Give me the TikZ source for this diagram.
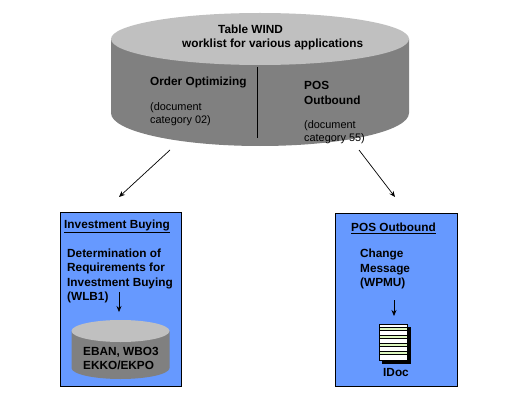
\documentclass[tikz,border=0pt]{standalone}
\usepackage{fontspec}
\setmainfont{Liberation Sans}
\usetikzlibrary{arrows.meta}
\definecolor{topg}{RGB}{192,192,192}
\definecolor{bodyg}{RGB}{128,128,128}
\definecolor{boxb}{RGB}{102,153,255}
\definecolor{lineg}{RGB}{221,247,190}
\tikzset{
 lbl/.style={inner sep=0pt,anchor=west,align=left,font=\bfseries\fontsize{11.8}{14.2}\selectfont,text=black},
 sm/.style={inner sep=0pt,anchor=west,align=left,font=\fontsize{10.9}{13.2}\selectfont,text=black},
 panel/.style={draw=black,fill=boxb,line width=1pt},
 arr/.style={draw=black,line width=0.7pt,-{Stealth[length=6pt,width=5pt]}},
}
\begin{document}
\begin{tikzpicture}[x=1pt,y=-1pt]
\useasboundingbox (0,0) rectangle (519,401);
\fill[white] (0,0) rectangle (519,401);
% big cylinder
\fill[bodyg] (111,39) -- (111,113) arc[start angle=180,end angle=0,x radius=149,y radius=33] -- (409,39) -- cycle;
\fill[topg] (260,39) ellipse[x radius=149,y radius=26];
\draw[black,line width=0.7pt] (257,67) -- (257,138);
\node[lbl] (t1) at (218,29) {Table WIND};
\node[lbl] (t2) at (182,44) {worklist for various applications};
\node[lbl] (oo) at (150,82) {Order Optimizing};
\node[sm] (oc) at (150,114.5) {(document\\category 02)};
\node[lbl] (po) at (304,93) {POS\\Outbound};
\node[sm] (pc) at (304,132.5) {(document\\category 55)};
\coordinate (a1s) at (170,150);
\coordinate (a1e) at (119,197);
\coordinate (a2s) at (359,150);
\coordinate (a2e) at (395,197);
\draw[arr] (a1s) -- (a1e);
\draw[arr] (a2s) -- (a2e);
% left panel
\draw[panel] (60.5,212.5) rectangle (181.5,386.5);
\node[lbl] (ib) at (64,226) {\underline{Investment Buying}};
\node[lbl] (det) at (67,276) {Determination of\\Requirements for\\Investment Buying\\(WLB1)};
\coordinate (a3s) at (119,292);
\coordinate (a3e) at (119,312);
\draw[arr] (a3s) -- (a3e);
\fill[bodyg] (71.5,331) -- (71.5,368) arc[start angle=180,end angle=0,x radius=49,y radius=11] -- (169.5,331) -- cycle;
\fill[topg] (120.5,331) ellipse[x radius=49,y radius=11];
\node[lbl] (eb) at (83,358.5) {EBAN, WBO3\\EKKO/EKPO};
% right panel
\draw[panel] (335.5,213.5) rectangle (457.5,386.5);
\node[lbl] (pt) at (351,228) {\underline{POS Outbound}};
\node[lbl] (cm) at (360,269) {Change\\Message\\(WPMU)};
\coordinate (a4s) at (394,300);
\coordinate (a4e) at (394,316);
\draw[arr] (a4s) -- (a4e);
% idoc
\fill[black] (382,327) rectangle (410.5,364);
\fill[white] (379,324) rectangle (407.5,361);
\foreach \yy in {327,335,343,351}{\fill[lineg] (380,\yy) rectangle (407,\yy+3);}
\draw[black,line width=0.6pt] (379,324.3) rectangle (407.5,360.7);
\foreach \yy in {327,330,335,338,343,346,351,354}{\draw[black,line width=0.5pt] (379,\yy) -- (407,\yy);}
\node[lbl] (id) at (383,372) {IDoc};
\end{tikzpicture}
\end{document}
